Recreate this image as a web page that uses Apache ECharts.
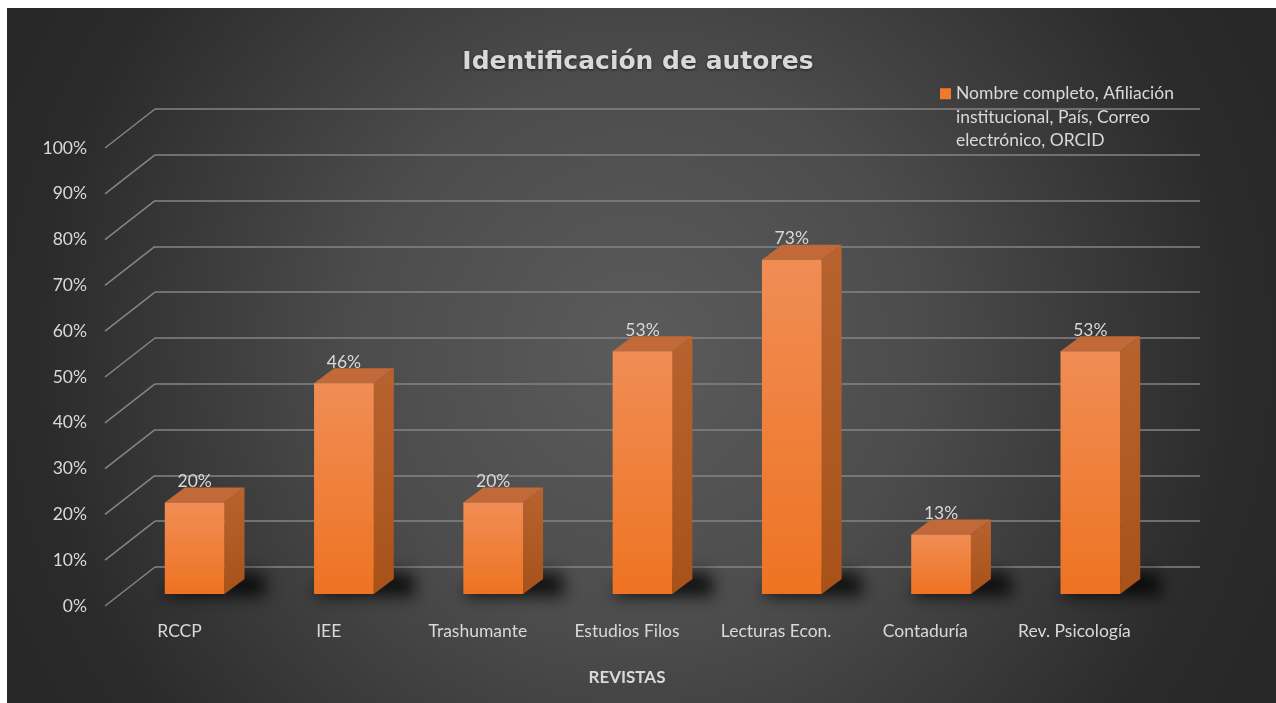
<!DOCTYPE html>
<html>
<head>
<meta charset="utf-8">
<script src="https://cdn.jsdelivr.net/npm/echarts@6/dist/echarts.min.js"></script>
<style>
  html, body { margin: 0; padding: 0; background: #fff; }
  #chart { width: 1276px; height: 703px; }
</style>
</head>
<body>
<div id="chart"></div>
<script>
const categories = ['RCCP', 'IEE', 'Trashumante', 'Estudios Filos', 'Lecturas Econ.', 'Contaduría', 'Rev. Psicología'];
const values = [20, 46, 20, 53, 73, 13, 53];
const yTicks = [0, 10, 20, 30, 40, 50, 60, 70, 80, 90, 100];
const seriesName = 'Nombre completo, Afiliación\ninstitucional, País, Correo\nelectrónico, ORCID';
const chartTitle = 'Identificación de autores';
const axisTitle = 'REVISTAS';

const FONT = 'Lato, "Open Sans", sans-serif';
const TXT = '#d9d9d9';
const FS = 17.5;

// legend icon: square on first text line
const iconSvg = '<svg xmlns="http://www.w3.org/2000/svg" width="11" height="70" viewBox="0 0 11 70">' +
  '<rect x="0" y="6" width="11" height="11" fill="#f07a2c"/></svg>';
const legendIcon = 'image://data:image/svg+xml;utf8,' + encodeURIComponent(iconSvg);

const chart = echarts.init(document.getElementById('chart'));

function renderBar(params, api) {
  const idx = api.value(0);
  const v = api.value(1);
  const top = api.coord([idx, v]);
  const base = api.coord([idx, 0]);
  const w = api.size([1, 0])[0] * 0.4;
  const x0 = top[0] - w / 2, x1 = top[0] + w / 2;
  const dx = 20, dy = 15;
  const off = 3000; // shape drawn off-screen, only its soft shadow shows
  return {
    type: 'group',
    children: [
      {
        type: 'polygon',
        shape: { points: [[x0 - 2 - off, base[1] + 2], [x1 + dx + 22 - off, base[1] + 2], [x1 + dx + 18 - off, base[1] - dy - 6], [x0 + dx - off, base[1] - dy - 6]] },
        style: { fill: '#000', shadowBlur: 16, shadowColor: 'rgba(0,0,0,0.8)', shadowOffsetX: off }
      },
      {
        type: 'polygon',
        shape: { points: [[x1, top[1]], [x1 + dx, top[1] - dy], [x1 + dx, base[1] - dy], [x1, base[1]]] },
        style: {
          fill: new echarts.graphic.LinearGradient(0, 0, 0, 1, [
            { offset: 0, color: '#b8632f' },
            { offset: 1, color: '#a8521a' }
          ])
        }
      },
      {
        type: 'polygon',
        shape: { points: [[x0, top[1]], [x0 + dx, top[1] - dy], [x1 + dx, top[1] - dy], [x1, top[1]]] },
        style: { fill: '#c2693a' }
      },
      {
        type: 'rect',
        shape: { x: x0, y: top[1], width: w, height: base[1] - top[1] },
        style: {
          fill: new echarts.graphic.LinearGradient(0, 0, 0, 1, [
            { offset: 0, color: '#f08d55' },
            { offset: 1, color: '#ee7322' }
          ])
        }
      },
      {
        type: 'text',
        style: {
          x: top[0], y: top[1] - 21,
          text: v + '%',
          align: 'center', verticalAlign: 'middle',
          fill: TXT, font: FS + 'px ' + FONT
        }
      }
    ]
  };
}

function renderDiag(params, api) {
  const p = api.coord([0, api.value(1)]);
  const x = params.coordSys.x;
  return {
    type: 'line',
    shape: { x1: x, y1: p[1], x2: x + 50, y2: p[1] - 39 },
    style: { stroke: '#858585', lineWidth: 1.5 }
  };
}

chart.setOption({
  backgroundColor: {
    type: 'radial', x: 0.5, y: 0.5, r: 1,
    colorStops: [
      { offset: 0, color: '#5b5b5b' },
      { offset: 0.4, color: '#4c4c4c' },
      { offset: 0.85, color: '#2b2b2b' },
      { offset: 1, color: '#272727' }
    ]
  },
  graphic: [
    { type: 'rect', left: 0, top: 0, shape: { width: 1276, height: 8 }, style: { fill: '#fff' }, z: 100 },
    { type: 'rect', left: 0, top: 0, shape: { width: 7, height: 703 }, style: { fill: '#fff' }, z: 100 }
  ],
  title: {
    text: chartTitle,
    left: 'center',
    top: 45,
    textStyle: {
      color: TXT, fontFamily: '"DejaVu Sans", sans-serif', fontWeight: 'bold', fontSize: 25,
      textShadowColor: 'rgba(0,0,0,0.6)', textShadowBlur: 3, textShadowOffsetY: 1
    }
  },
  legend: {
    left: 940,
    top: 82,
    padding: 0,
    itemWidth: 11,
    itemHeight: 70,
    data: [{ name: seriesName, icon: legendIcon }],
    textStyle: { color: TXT, fontFamily: FONT, fontSize: FS, lineHeight: 23.5 }
  },
  grid: [
    { left: 155, right: 76, top: 109, bottom: 136 },
    { left: 120, right: 111, top: 136, bottom: 109 },
    { left: 105, right: 127, top: 148, bottom: 97 }
  ],
  xAxis: [
    { gridIndex: 0, type: 'category', data: categories, show: false },
    { gridIndex: 1, type: 'category', data: categories, show: false },
    {
      gridIndex: 2, type: 'category', data: categories,
      axisLine: { show: false }, axisTick: { show: false },
      axisLabel: { color: TXT, fontFamily: FONT, fontSize: FS, margin: 16, interval: 0 },
      name: axisTitle, nameLocation: 'middle', nameGap: 63,
      nameTextStyle: { color: TXT, fontFamily: FONT, fontSize: 17, fontWeight: 'bold' }
    }
  ],
  yAxis: [
    {
      gridIndex: 0, type: 'value', min: 0, max: 100, interval: 10,
      axisLine: { show: false }, axisTick: { show: false }, axisLabel: { show: false },
      splitLine: { lineStyle: { color: '#858585', width: 1.5 } }
    },
    { gridIndex: 1, type: 'value', min: 0, max: 100, interval: 10, show: false, splitLine: { show: false } },
    {
      gridIndex: 2, type: 'value', min: 0, max: 100, interval: 10,
      axisLine: { show: false }, axisTick: { show: false }, splitLine: { show: false },
      axisLabel: { color: TXT, fontFamily: FONT, fontSize: FS, margin: 18, formatter: '{value}%' }
    }
  ],
  series: [
    {
      type: 'custom',
      name: 'diag',
      xAxisIndex: 2, yAxisIndex: 2,
      data: yTicks.map(function (t) { return [0, t]; }),
      renderItem: renderDiag,
      silent: true,
      z: 1
    },
    {
      type: 'custom',
      name: seriesName,
      xAxisIndex: 1, yAxisIndex: 1,
      itemStyle: { color: '#f07a2c' },
      encode: { x: 0, y: 1 },
      data: values.map(function (v, i) { return [i, v]; }),
      renderItem: renderBar,
      z: 3
    }
  ]
});
</script>
</body>
</html>
